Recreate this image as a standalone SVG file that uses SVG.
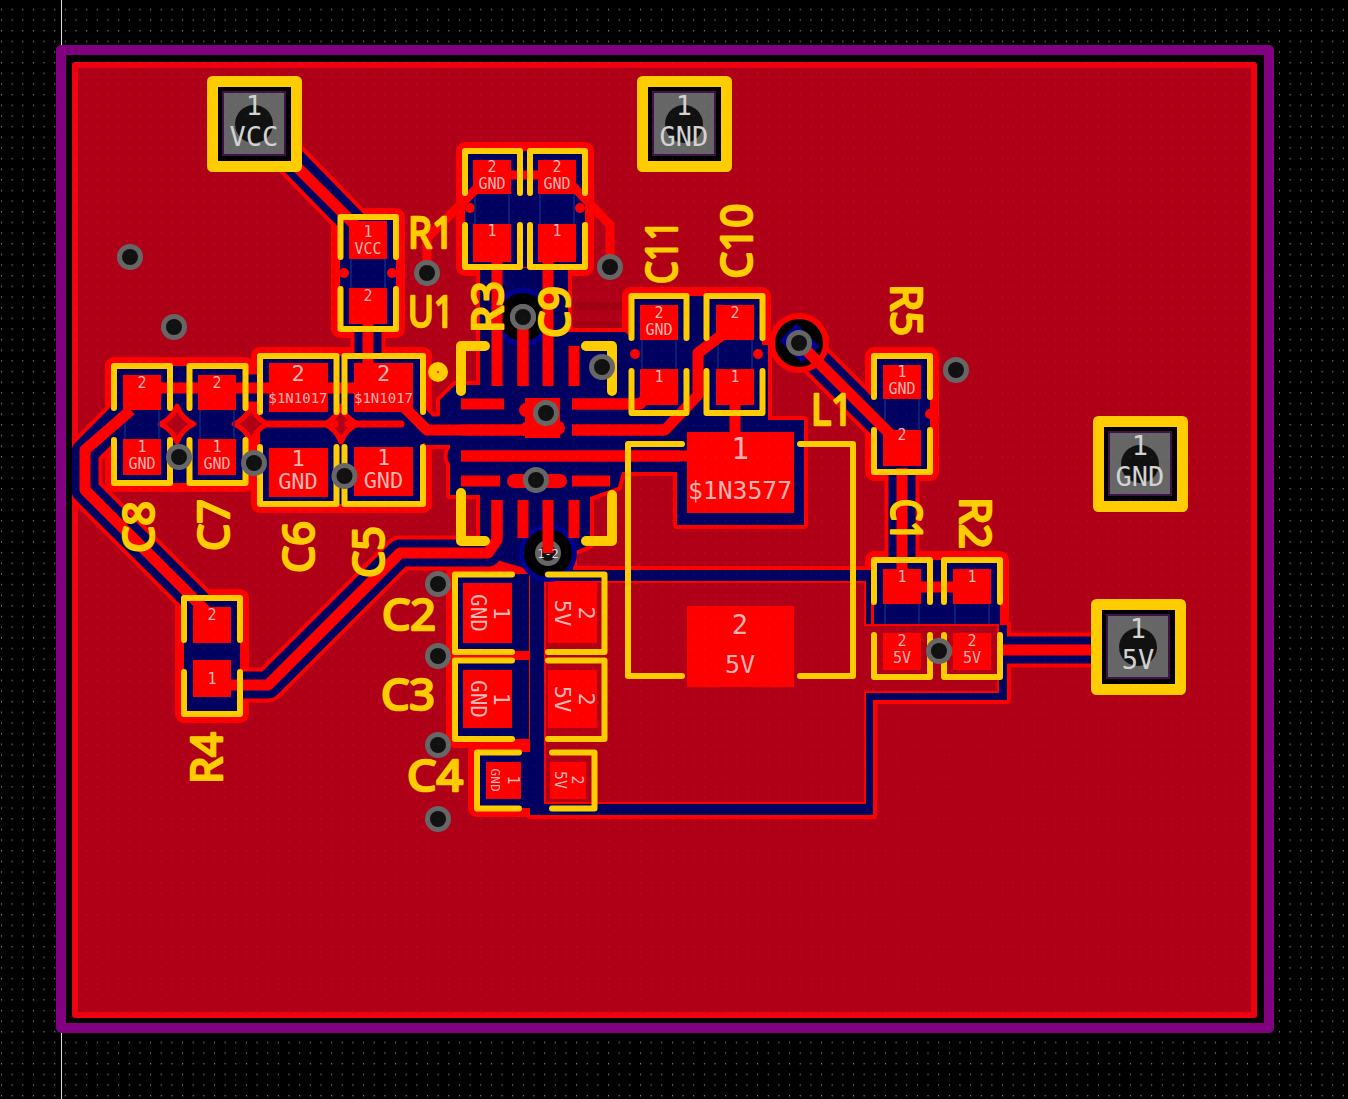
<svg xmlns="http://www.w3.org/2000/svg" xmlns:xlink="http://www.w3.org/1999/xlink" width="1348" height="1099" viewBox="0 0 1348 1099">
<style>
.silk{fill:none;stroke:#ffcc00;stroke-width:6;stroke-linecap:round;stroke-linejoin:round}
.thick{stroke-width:10}
.trk{fill:none;stroke:#f00;stroke-width:11;stroke-linejoin:round;stroke-linecap:butt}
.pad{fill:#f00}
.fp{fill:#000060;stroke:#f00;stroke-width:18;stroke-linejoin:round;paint-order:stroke}
.fab{fill:none;stroke:#0a2a80;stroke-width:1.500}
.edge{fill:none;stroke:#f00;stroke-width:35;stroke-linejoin:round;stroke-linecap:round}
.navy{fill:none;stroke:#000060;stroke-width:27;stroke-linejoin:round;stroke-linecap:round}
.pedge{fill:#f00;stroke:#f00;stroke-width:8;stroke-linejoin:round}
.pnavy{fill:#000060;stroke:none}
text{font-family:"DejaVu Sans Mono","Liberation Mono",monospace;text-anchor:middle}
.p{fill:#ffb4b4;font-size:15px}
.m{fill:#ffb4b4;font-size:22px}
.s{fill:#ffb4b4;font-size:14px}
.j{fill:#d2d2d2;font-size:27px}
.ref{font-family:"Noto Sans","Liberation Sans",sans-serif;font-size:43px;fill:#ffcc00;stroke:#ffcc00;stroke-width:2.500;stroke-linejoin:round}
</style>
<defs>
<pattern id="grid" width="10.65" height="10.65" patternUnits="userSpaceOnUse"><rect x="1" y="9" width="1" height="1" fill="#fff"/></pattern>
<g id="via"><circle r="13" fill="#666"/><circle r="8" fill="#111"/></g>
<g id="bigvia"><circle r="29" fill="#000090"/><circle r="24" fill="#000"/><use href="#via"/></g>
<path id="dia" d="M-17,0Q-5,-5 0,-18Q5,-5 17,0Q5,5 0,18Q-5,5 -17,0Z" fill="#b00018" stroke="#f00" stroke-width="5" stroke-linejoin="round"/>
<g id="conn">
<rect x="-41.500" y="-42.500" width="84" height="85" fill="#000" stroke="#ffcc00" stroke-width="11" stroke-linejoin="round"/>
<rect x="-31" y="-32" width="62" height="63" fill="#666" stroke="#401048" stroke-width="2"/>
<circle r="19" fill="#111"/>
</g>
<clipPath id="board"><rect x="72" y="62" width="1185" height="956"/></clipPath>
<path id="mainzone" d="M480,268H568V332H625L640,345H768V420H804V525H677V472H622L618,487L590,497V545L573,552V570H871V625H1007V700H873V815H530V570L497,560L480,545V495H450V445H425L440,415V400L455,385H480Z"/>
<path id="tracks" d="M290,158L368,238M368,310V400M142,388H383M125,412L85,452V490L198,603M405,408L427,430H525M240,685H268L400,553H488L497,540V500M497,262V386M548,262V386M572,404H640L659,385M572,430H665L698,395V353L723,337L735,325M461,456H690M735,405V432M799,343L902,446M902,468V569M1000,650H1100M921,590H953"/>
</defs>

<rect id="bg" width="1348" height="1099" fill="#000"/>
<rect width="1348" height="1099" fill="url(#grid)" opacity=".75"/>
<path d="M61.500,0V46M61.500,1033V1099" stroke="#ddd" stroke-width="1"/>
<rect id="outline" x="61" y="50" width="1208" height="978" fill="#000" stroke="#800080" stroke-width="10" stroke-linejoin="round"/>
<rect id="zone" x="75" y="65" width="1179" height="950" fill="#b00018" stroke="#ee0010" stroke-width="6" stroke-linejoin="round"/>
<path d="M575,302H625V310H575ZM575,322H625V328H575Z" fill="#a00010"/>

<g id="clearance" clip-path="url(#board)">
<use href="#tracks" class="edge"/>
<use href="#mainzone" class="pedge"/>
<rect class="fp" x="340" y="217" width="56" height="112"/>
<rect class="fp" x="465" y="151" width="120" height="116"/>
<rect class="fp" x="631" y="296" width="131" height="117"/>
<rect class="fp" x="874" y="356" width="56" height="116"/>
<rect class="fp" x="874" y="560" width="126" height="117"/>
<rect class="fp" x="114" y="366" width="131" height="117"/>
<rect class="fp" x="260" y="356" width="163" height="148"/>
<rect class="fp" x="184" y="598" width="56" height="116"/>
<rect class="fp" x="455" y="574" width="74" height="78"/>
<rect class="fp" x="455" y="660" width="74" height="79"/>
<rect class="fp" x="477" y="752" width="53" height="56"/>
<use href="#tracks" class="navy"/>
<use href="#mainzone" class="pnavy"/>
<use href="#dia" x="177" y="424"/><use href="#dia" x="251" y="424"/><use href="#dia" x="341" y="424"/>
<path d="M268,424H335M348,424H401" stroke="#f00" stroke-width="7" stroke-linecap="round"/>
<circle cx="344" cy="273" r="5" fill="#f00"/><circle cx="392" cy="273" r="5" fill="#f00"/>
<circle cx="635" cy="354" r="5" fill="#f00"/><circle cx="758" cy="354" r="5" fill="#f00"/>
<circle cx="930" cy="414" r="5" fill="#f00"/><circle cx="470" cy="208" r="5" fill="#f00"/><circle cx="580" cy="208" r="5" fill="#f00"/>
<path class="fab" d="M351,259V288M385,259V288M475,194V224M509,194V224M540,194V224M574,194V224M642,340V369M676,340V369M718,340V369M752,340V369M885,399V430M919,399V430M125,410V439M159,410V439M200,410V439M234,410V439M885,604V633M919,604V633M955,604V633M989,604V633"/>
<path id="zone5v" d="M545,582H865V625H998V692H865V803H545Z" fill="#b00018" stroke="#f00" stroke-width="2"/>
<circle cx="799" cy="343" r="30" fill="#f00"/>
<use href="#bigvia" x="523" y="317"/>
<use href="#bigvia" x="548" y="553"/>
</g>

<g id="connectors">
<path class="trk" d="M270,140L368,238M368,310V400M142,388H383M131,410L85,450V490L212,617M405,408L427,430H525M212,685H268L400,553H488L497,540V500M497,243V386M548,243V386M523,317V386M572,404H640L659,385M572,430H665L698,395V353L735,325M461,456H690M735,405V432M799,343L902,446M902,468V569M1000,650H1100M921,587H953"/>
<path class="trk" d="M477,188L427,238V273M505,175H540M570,183L610,225V267M940,651H972" style="stroke-width:9"/>
<path class="pad" d="M461,398.500H504V409.500H461ZM461,424.500H525V435.500H461ZM461,450.500H680V461.500H461ZM461,475.500H500V486.500H461ZM572,398.500H640V409.500H572ZM572,424.500H665V435.500H572ZM572,475.500H610V486.500H572ZM491.500,500H502.500V538H491.500ZM517.500,500H528.500V538H517.500ZM542.500,500H553.500V553H542.500ZM568.500,500H579.500V538H568.500ZM517.500,317H528.500V386H517.500ZM568.500,346H579.500V386H568.500ZM525,398H560V438H525Z"/>
<path d="M526,410H552M528,428H558M514,481H560" stroke="#f00" stroke-width="14" stroke-linecap="round"/>
<use href="#via" x="523" y="317"/>
<text x="548" y="558" style="font-size:12px;fill:#ddd">1-2</text>
</g>

<g id="U1">
<path class="silk thick" d="M485,346H461V391M586,346H612V391M461,493V541H485M612,495V541H586"/>
<circle cx="438" cy="372" r="10" fill="#ffcc00"/><circle cx="438" cy="372" r="1" fill="#f00"/>
<text class="ref" x="431" y="327" textLength="46" lengthAdjust="spacingAndGlyphs">U1</text>
</g>
<g id="L1">
<rect class="pad" x="687" y="432" width="107" height="81"/>
<rect class="pad" x="687" y="606" width="107" height="81"/>
<path class="silk" d="M682,444H628V676H682M800,444H853V676H800"/>
<text x="740" y="459" style="font-size:30px;fill:#ffb4b4">1</text>
<text x="740" y="499" textLength="104" lengthAdjust="spacingAndGlyphs" style="font-size:25px;fill:#ffb4b4">$1N3577</text>
<text x="740" y="634" style="font-size:27px;fill:#ffb4b4">2</text>
<text x="740" y="673" style="font-size:25px;fill:#ffb4b4">5V</text>
<text class="ref" x="832" y="425" textLength="42" lengthAdjust="spacingAndGlyphs">L1</text>
</g>

<g id="R1">
<rect class="pad" x="349" y="221" width="38" height="38"/><rect class="pad" x="349" y="288" width="38" height="36"/>
<path class="silk" d="M340.500,257V217H396V257M340.500,289V329H396V289"/>
<text class="p" x="368" y="237">1</text><text class="p" x="368" y="254">VCC</text><text class="p" x="368" y="301">2</text>
<text class="ref" x="431" y="248" textLength="46" lengthAdjust="spacingAndGlyphs">R1</text>
</g>
<g id="R3">
<rect class="pad" x="473" y="160" width="38" height="34"/><rect class="pad" x="473" y="224" width="38" height="38"/>
<path class="silk" d="M465,193V151H520V193M465,225V267H520V225"/>
<text class="p" x="492" y="172">2</text><text class="p" x="492" y="189">GND</text><text class="p" x="492" y="236">1</text>
<text class="ref" transform="translate(503,307) rotate(-90)" textLength="52" lengthAdjust="spacingAndGlyphs">R3</text>
</g>
<g id="C9">
<rect class="pad" x="538" y="160" width="38" height="34"/><rect class="pad" x="538" y="224" width="38" height="38"/>
<path class="silk" d="M530,193V151H585V193M530,225V267H585V225"/>
<text class="p" x="557" y="172">2</text><text class="p" x="557" y="189">GND</text><text class="p" x="557" y="236">1</text>
<text class="ref" transform="translate(570,312) rotate(-90)" textLength="52" lengthAdjust="spacingAndGlyphs">C9</text>
</g>
<g id="C11">
<rect class="pad" x="640" y="305" width="38" height="35"/><rect class="pad" x="640" y="369" width="38" height="36"/>
<path class="silk" d="M631.500,338V296H686.500V338M631.500,371V413H686.500V371"/>
<text class="p" x="659" y="318">2</text><text class="p" x="659" y="335">GND</text><text class="p" x="659" y="382">1</text>
<text class="ref" transform="translate(677,252) rotate(-90)" textLength="64" lengthAdjust="spacingAndGlyphs">C11</text>
</g>
<g id="C10">
<rect class="pad" x="716" y="305" width="38" height="35"/><rect class="pad" x="716" y="369" width="38" height="36"/>
<path class="silk" d="M706.500,338V296H762.500V338M706.500,371V413H762.500V371"/>
<text class="p" x="735" y="318">2</text><text class="p" x="735" y="382">1</text>
<text class="ref" transform="translate(752,241) rotate(-90)" textLength="75" lengthAdjust="spacingAndGlyphs">C10</text>
</g>
<g id="R5">
<rect class="pad" x="883" y="365" width="38" height="34"/><rect class="pad" x="883" y="430" width="38" height="36"/>
<path class="silk" d="M874,397V356H930V397M874,430V472H930V430"/>
<text class="p" x="902" y="377">1</text><text class="p" x="902" y="394">GND</text><text class="p" x="902" y="440">2</text>
<text class="ref" transform="translate(891,310) rotate(90)" textLength="52" lengthAdjust="spacingAndGlyphs">R5</text>
</g>
<g id="C1">
<rect class="pad" x="883" y="569" width="38" height="35"/><rect class="pad" x="883" y="633" width="38" height="37"/>
<path class="silk" d="M874,602V560H930V602M874,635V677H930V635"/>
<text class="p" x="902" y="582">1</text><text class="p" x="902" y="646">2</text><text class="p" x="902" y="663">5V</text>
<text class="ref" transform="translate(891,520) rotate(90)" textLength="42" lengthAdjust="spacingAndGlyphs">C1</text>
</g>
<g id="R2">
<rect class="pad" x="953" y="569" width="38" height="35"/><rect class="pad" x="953" y="633" width="38" height="37"/>
<path class="silk" d="M944,602V560H1000V602M944,635V677H1000V635"/>
<text class="p" x="972" y="582">1</text><text class="p" x="972" y="646">2</text><text class="p" x="972" y="663">5V</text>
<text class="ref" transform="translate(960,523) rotate(90)" textLength="52" lengthAdjust="spacingAndGlyphs">R2</text>
</g>
<g id="C8">
<rect class="pad" x="123" y="375" width="38" height="35"/><rect class="pad" x="123" y="439" width="38" height="36"/>
<path class="silk" d="M114,408V366H170V408M114,440V483H170V440"/>
<text class="p" x="142" y="388">2</text><text class="p" x="142" y="452">1</text><text class="p" x="142" y="469">GND</text>
<text class="ref" transform="translate(154,527) rotate(-90)" textLength="52" lengthAdjust="spacingAndGlyphs">C8</text>
</g>
<g id="C7">
<rect class="pad" x="198" y="375" width="38" height="35"/><rect class="pad" x="198" y="439" width="38" height="36"/>
<path class="silk" d="M189.500,408V366H245.500V408M189.500,440V483H245.500V440"/>
<text class="p" x="217" y="388">2</text><text class="p" x="217" y="452">1</text><text class="p" x="217" y="469">GND</text>
<text class="ref" transform="translate(229,525) rotate(-90)" textLength="52" lengthAdjust="spacingAndGlyphs">C7</text>
</g>
<g id="C6">
<rect class="pad" x="269" y="363" width="59" height="49"/><rect class="pad" x="269" y="448" width="59" height="49"/>
<path class="silk" d="M260,412V356H336.500V412M260,447V504H336.500V447"/>
<text class="m" x="298" y="381">2</text><text class="s" x="298" y="403">$1N1017</text><text class="m" x="298" y="466">1</text><text class="m" x="298" y="489">GND</text>
<text class="ref" transform="translate(314,547) rotate(-90)" textLength="52" lengthAdjust="spacingAndGlyphs">C6</text>
</g>
<g id="C5">
<rect class="pad" x="354" y="363" width="59" height="49"/><rect class="pad" x="354" y="447" width="59" height="49"/>
<path class="silk" d="M344.500,412V356H423V412M344.500,447V504H423V447"/>
<text class="m" x="383.500" y="381">2</text><text class="s" x="383.500" y="403">$1N1017</text><text class="m" x="383.500" y="465">1</text><text class="m" x="383.500" y="488">GND</text>
<text class="ref" transform="translate(384,552) rotate(-90)" textLength="52" lengthAdjust="spacingAndGlyphs">C5</text>
</g>
<g id="R4">
<rect class="pad" x="193" y="607" width="38" height="36"/><rect class="pad" x="193" y="660" width="38" height="37"/>
<path class="silk" d="M184,640V598H240V640M184,672V714H240V672"/>
<text class="p" x="212" y="620">2</text><text class="p" x="212" y="684">1</text>
<text class="ref" transform="translate(222,758) rotate(-90)" textLength="52" lengthAdjust="spacingAndGlyphs">R4</text>
</g>
<g id="C2">
<rect class="pad" x="463" y="583" width="49" height="60"/><rect class="pad" x="548" y="583" width="49" height="60"/>
<path class="silk" d="M512,574.500H455V652H512M548,574.500H604.500V652H548"/>
<text class="m" style="font-size:21px" transform="translate(471,613) rotate(90)">GND</text><text class="m" transform="translate(494,613) rotate(90)">1</text>
<text class="m" transform="translate(555,613) rotate(90)">5V</text><text class="m" transform="translate(579,613) rotate(90)">2</text>
<text class="ref" x="409" y="630" textLength="54" lengthAdjust="spacingAndGlyphs">C2</text>
</g>
<g id="C3">
<rect class="pad" x="463" y="670" width="49" height="58"/><rect class="pad" x="548" y="670" width="49" height="58"/>
<path class="silk" d="M512,660.500H455V739H512M548,660.500H604.500V739H548"/>
<text class="m" style="font-size:21px" transform="translate(471,699) rotate(90)">GND</text><text class="m" transform="translate(494,699) rotate(90)">1</text>
<text class="m" transform="translate(555,699) rotate(90)">5V</text><text class="m" transform="translate(579,699) rotate(90)">2</text>
<text class="ref" x="408" y="710" textLength="54" lengthAdjust="spacingAndGlyphs">C3</text>
</g>
<g id="C4">
<rect class="pad" x="486" y="762" width="35" height="37"/><rect class="pad" x="550" y="762" width="36" height="37"/>
<path class="silk" d="M519,752.500H477V808.500H519M552,752.500H594.500V808.500H552"/>
<text class="p" style="font-size:13px" transform="translate(491,780) rotate(90)">GND</text><text class="p" transform="translate(508,780) rotate(90)">1</text>
<text class="p" transform="translate(555,780) rotate(90)">5V</text><text class="p" transform="translate(572,780) rotate(90)">2</text>
<text class="ref" x="435" y="791" textLength="56" lengthAdjust="spacingAndGlyphs">C4</text>
</g>

<g id="J1"><use href="#conn" x="254" y="124"/><text class="j" x="254" y="115">1</text><text class="j" x="254" y="146">VCC</text></g>
<g id="J2"><use href="#conn" x="684" y="124"/><text class="j" x="684" y="115">1</text><text class="j" x="684" y="146">GND</text></g>
<g id="J3"><use href="#conn" x="1140" y="464"/><text class="j" x="1140" y="455">1</text><text class="j" x="1140" y="486">GND</text></g>
<g id="J4"><use href="#conn" x="1138" y="647"/><text class="j" x="1138" y="638">1</text><text class="j" x="1138" y="669">5V</text></g>

<g id="vias">
<use href="#via" x="130" y="257"/><use href="#via" x="174" y="327"/><use href="#via" x="179" y="457"/><use href="#via" x="254" y="463"/>
<use href="#via" x="344.500" y="476"/><use href="#via" x="427" y="273"/><use href="#via" x="610" y="267"/><use href="#via" x="956" y="370"/>
<use href="#via" x="438" y="584"/><use href="#via" x="438" y="656"/><use href="#via" x="438" y="745"/><use href="#via" x="438" y="819"/>
<use href="#via" x="939" y="651"/><use href="#via" x="546" y="413"/><use href="#via" x="536" y="480"/><use href="#via" x="602" y="367"/>
<g><circle cx="799" cy="343" r="24" fill="#000"/><path d="M788,332L811,355" stroke="#000090" stroke-width="24"/><path d="M799,343L817,361" stroke="#f00" stroke-width="11"/><use href="#via" x="799" y="343"/></g>
</g>
<rect x="72" y="62" width="1185" height="956" fill="url(#grid)" opacity=".12"/>
</svg>
